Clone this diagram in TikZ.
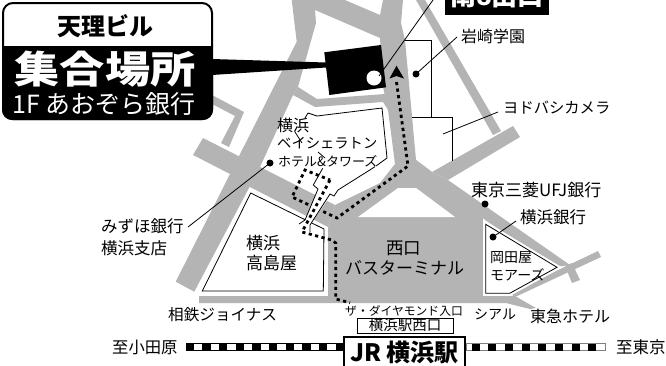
\documentclass[tikz,border=0pt]{standalone}
\usepackage{fontspec}
\setmainfont{Noto Sans CJK JP}
\newfontfamily\jpblack{Noto Sans CJK JP Black}
\definecolor{road}{HTML}{B4B4B4}
\tikzset{
  roadfill/.style={fill=road,draw=none},
  thinline/.style={draw=black,line width=0.8pt},
  lab/.style={anchor=west,inner sep=0pt,text=black},
  dotnode/.style={circle,fill=black,inner sep=0pt,minimum size=7pt},
  route/.style={draw=black,line width=2.8pt,dash pattern=on 3.2pt off 3.4pt},
  block/.style={draw=black,line width=0.8pt,fill=white,preaction={draw=white,line width=5pt}}
}
\newcommand{\fs}[1]{\fontsize{#1}{#1}\selectfont}
\begin{document}
\begin{tikzpicture}[x=1pt,y=-1pt]
\useasboundingbox (0,0) rectangle (666,365);
\clip (0,0) rectangle (666,365);
% roads
\fill[roadfill] (291.7,0) -- (296.7,41.7) -- (175.7,281.7) -- (194.3,291.7) -- (260,167) -- (293,95) -- (298,87) -- (316,23) -- (315,10) -- (345,10) -- (345,0) -- cycle;
\fill[roadfill] (315,10) -- (380,38) -- (385,17) -- (380,15) -- (345,0) -- (300,0) -- cycle;
\fill[roadfill] (298,87) -- (317,99) -- (385,94) -- (388,110) -- (383,102) -- (315,107) -- (293,95) -- cycle;
\fill[roadfill] (383,0) -- (403,0) -- (401,23) -- (405,40) -- (416,160) -- (432,172) -- (395,164) -- (388,110) -- (383,87) -- (380,38) -- (380,15) -- cycle;
\fill[roadfill] (416,0) -- (425,0) -- (501,131) -- (493,135) -- cycle;
\fill[roadfill] (432,172) -- (513,126) -- (520,137) -- (448,180) -- cycle;
\fill[roadfill] (203,138) -- (335,205) -- (328,227) -- (250,187) -- (232,175) -- (193,155) -- cycle;
\fill[roadfill] (212,95) -- (244,112) -- (229,147) -- (221,143) -- (235,116) -- (212,104) -- cycle;
% terminal area and south-east road
\fill[roadfill] (335,205) -- (380,183) -- (395,164) -- (416,160) -- (432,172) -- (448,180) -- (570,265) -- (556,267) -- (485,220) -- (483,218) -- (483,295) -- (515,296) -- (536,308) -- (530,309) -- (506,303) -- (199,303) -- (199,296) -- (328,296) -- (328,227) -- cycle;
\fill[white] (358,217) -- (455,217) -- (416,188) -- (398,188) -- cycle;
\fill[roadfill] (598,251) -- (601,257) -- (515,297) -- (510,293) -- cycle;
\fill[roadfill] (565,266) -- (572,263) -- (580,280) -- (572,283) -- cycle;
% blocks
\path[block] (250.7,193) -- (324,229) -- (323.3,291) -- (202.3,291) -- cycle;
\path[block] (485.7,224.3) -- (557,267.3) -- (509.7,293.3) -- (485.7,293.3) -- cycle;
\draw[thinline] (405,40) -- (431,40) -- (431,117) -- (412,117);
\draw[thinline] (412,117) -- (452,117) -- (452,161);
\draw[thinline] (308,113) -- (317,116) -- (382,108) -- (387,158) -- (376,166);
\draw[thinline] (308,113) -- (305,118);
\draw[thinline] (295,132) -- (302,143);
\draw[thinline] (318,152) -- (325,158);
% route, first part
\draw[route] (396.5,82) -- (408,166) -- (337,218) -- (292,197) -- (305,170) -- (330,180);
\fill[white] (318,189) -- (305,220) -- (298,224) -- (310,232) -- (310,225) -- (331,195) -- (326,186) -- cycle;
\draw[thinline] (322.7,168.3) -- (313.3,185) -- (318,189) -- (305,220) -- (299,224);
\draw[thinline] (375,166.7) -- (338,190) -- (334,196) -- (330,194) -- (310,225) -- (310,232);
\draw[route] (330,180) -- (302,232) -- (331.7,240) -- (335.7,243) -- (335.7,299) -- (350,302.7);
\fill[black] (389.5,78.5) -- (396.5,76) -- (404,78.5) -- (396.5,65.7) -- cycle;
% building
\fill[black] (324.3,52.3) -- (381,45) -- (386,87.3) -- (329.3,95) -- cycle;
\fill[white] (374,78) circle (7.5);
\fill[black] (212,59) -- (212,75) -- (326,67.5) -- (326,62.5) -- cycle;
\coordinate (c0) at (433,0);
\coordinate (c1) at (379,76);
\draw[thinline] (c1) -- (c0);
% callout
\draw[black,line width=2pt,fill=white,rounded corners=10pt] (3,3) rectangle (212,119);
\fill[black,rounded corners=10pt] (2,60) -- (2,120) -- (213,120) -- (213,60) -- cycle;
\fill[black] (2,46) rectangle (213,70);
\node[inner sep=0pt,font=\jpblack\fs{24}] (t1) at (105,26.5) {天理ビル};
\node[inner sep=0pt,text=white,font=\jpblack\fs{38}] (t2) at (105,69.5) {\scalebox{1.19}[1]{集合場所}};
\node[inner sep=0pt,text=white,font=\fs{25}] (t3) at (104,104) {1F あおぞら銀行};
% top label
\fill[black] (445,-2) rectangle (549,15);
\node[inner sep=0pt,text=white,font=\fs{26}\bfseries] (t4) at (497,-4) {南8出口};
% labels and leaders
\node[lab,font=\fs{16}] (l1) at (461,36) {岩崎学園};
\node[lab,font=\fs{15.3}] (l2) at (503,108) {ヨドバシカメラ};
\node[lab,font=\fs{16}] (l3) at (277,125) {横浜};
\node[lab,font=\fs{14.3}] (l4) at (277,143) {ベイシェラトン};
\node[lab,font=\fs{13}] (l5) at (278,161) {ホテル\&タワーズ};
\node[lab,font=\fs{16.5}] (l6) at (101,226) {みずほ銀行};
\node[lab,font=\fs{16.5}] (l7) at (101,248) {横浜支店};
\node[lab,font=\fs{17}] (l8) at (246,243) {横浜};
\node[lab,font=\fs{17}] (l9) at (246,263) {高島屋};
\node[lab,font=\fs{15.6}] (l10) at (168,315) {相鉄ジョイナス};
\node[lab,font=\fs{16.3}] (l11) at (112,347) {至小田原};
\node[lab,font=\fs{16.5}] (l12) at (616,347) {至東京};
\node[lab,font=\fs{11.8}] (l13) at (345,311) {ザ・ダイヤモンド入口};
\node[lab,font=\fs{14}] (l14) at (474,314) {シアル};
\node[lab,font=\fs{16}] (l15) at (530,316) {東急ホテル};
\node[lab,font=\fs{17.5}] (l16) at (386,248) {西口};
\node[lab,font=\fs{17}] (l17) at (345,268) {バスターミナル};
\node[lab,font=\fs{17}] (l18) at (471,190) {東京三菱UFJ銀行};
\node[lab,font=\fs{16.5}] (l19) at (520,217) {横浜銀行};
\node[lab,font=\fs{14}] (l20) at (490,258) {岡田屋};
\node[lab,font=\fs{14}] (l21) at (490,275) {モアーズ};
\node[dotnode] (d1) at (416,74) {};
\coordinate (e1) at (457,37);
\draw[thinline] (d1.center) -- (e1);
\coordinate (e2) at (498,112);
\coordinate (e2b) at (443,134);
\draw[thinline] (e2) -- (e2b);
\node[dotnode] (d2) at (270,163) {};
\coordinate (e3) at (188,227);
\draw[thinline] (d2.center) -- (e3);
\node[dotnode] (d3) at (485,204) {};
\node[dotnode] (d4) at (493,237) {};
\coordinate (e4) at (516,221);
\draw[thinline] (d4.center) -- (e4);
% rails
\draw[black,line width=0.7pt,fill=white] (186,343.5) rectangle (345,350.5);
\foreach \k in {0,...,9} {\fill[black] ({185.7+16.67*\k},343.5) rectangle ++(8.3,7);}
\draw[black!50,line width=0.7pt,fill=white] (466,343.5) rectangle (605,350.5);
\foreach \k in {0,...,7} {\fill[black] ({471.5+16.67*\k},343.5) rectangle ++(8.3,7);}
% station
\node[draw=black,line width=0.8pt,fill=white,minimum width=96pt,minimum height=15pt,inner sep=0pt,font=\fs{14.5}] (w1) at (405,325.5) {横浜駅西口};
\draw[black,line width=1.3pt,fill=white] (344,370) -- (344,337) -- (465,337) -- (465,370);
\node[inner sep=0pt,font=\fs{24}\bfseries] (w2) at (404.5,352) {JR 横浜駅};
\end{tikzpicture}
\end{document}
